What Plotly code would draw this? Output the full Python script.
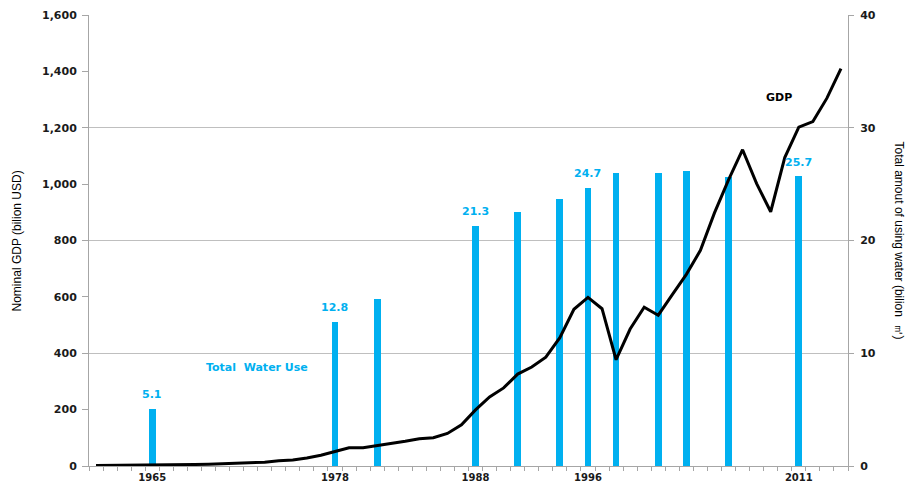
import plotly.graph_objects as go

# Year categories on the x axis
years = list(range(1961, 2015))

# Nominal GDP, billion USD
gdp = [2.1, 2.3, 2.7, 2.9, 3.0, 3.7, 4.3, 5.2, 6.6, 8.1,
       9.4, 10.7, 13.4, 18.8, 21.4, 28.7, 37.9, 51.7, 65.0, 65.0,
       72.4, 78.4, 87.7, 96.6, 100.3, 115.5, 146.0, 199.0, 245.0, 277.0,
       326.0, 351.0, 386.0, 455.0, 556.0, 598.0, 558.0, 377.0, 486.0, 563.0,
       535.0, 608.0, 680.0, 765.0, 898.0, 1015.0, 1122.0, 1002.0, 902.0, 1094.0,
       1202.0, 1222.0, 1305.0, 1410.0]

# Total water use, billion m3
water_years = [1965, 1978, 1981, 1988, 1991, 1994, 1996, 1998, 2001, 2003, 2006, 2011]
water = [5.1, 12.8, 14.8, 21.3, 22.5, 23.7, 24.7, 26.0, 26.0, 26.2, 25.6, 25.7]

# Years whose water value is printed above the bar
labeled_years = [1965, 1978, 1988, 1996, 2011]

# X tick labels
tick_years = [1965, 1978, 1988, 1996, 2011]

BLUE = "#00B0F0"
AXIS = "#A6A6A6"
GRID = "#BFBFBF"
TICK_FONT = dict(family="DejaVu Sans", size=11, color="#1A1A1A", weight="bold")
TITLE_FONT = dict(family="Liberation Sans Narrow, Liberation Sans, Arial", size=12, color="#000000")

fig = go.Figure()

fig.add_trace(go.Bar(
    x=water_years, y=water, width=0.48,
    marker=dict(color=BLUE, line=dict(width=0)),
    yaxis="y", name="Total Water Use", showlegend=False,
))

fig.add_trace(go.Scatter(
    x=years, y=gdp, mode="lines",
    line=dict(color="#000000", width=3),
    yaxis="y2", name="GDP", showlegend=False,
))

annotations = []
for yr, val in zip(water_years, water):
    if yr in labeled_years:
        annotations.append(dict(
            x=yr, y=val, xref="x", yref="y", text=f"{val:.1f}",
            showarrow=False, yanchor="middle", yshift=14,
            font=dict(family="DejaVu Sans", size=11, color=BLUE, weight="bold"),
        ))

annotations += [
    dict(x=0.2213, y=0.2195, xref="paper", yref="paper", text="Total  Water Use",
         showarrow=False, xanchor="center", yanchor="middle",
         font=dict(family="DejaVu Sans", size=11, color=BLUE, weight="bold")),
    dict(x=0.909, y=0.818, xref="paper", yref="paper", text="GDP",
         showarrow=False, xanchor="center", yanchor="middle",
         font=dict(family="DejaVu Sans", size=11, color="#000000", weight="bold")),
    dict(x=-0.0949, y=0.5, xref="paper", yref="paper", text="Nominal GDP (bilion USD)",
         showarrow=False, textangle=-90, xanchor="center", yanchor="middle",
         font=TITLE_FONT),
    dict(x=1.0685, y=0.5, xref="paper", yref="paper",
         text="Total amout of using water (bilion  ㎥)",
         showarrow=False, textangle=90, xanchor="center", yanchor="middle",
         font=TITLE_FONT),
]

fig.update_layout(
    width=909, height=488,
    margin=dict(l=89, r=61, t=15, b=22, autoexpand=False),
    paper_bgcolor="white", plot_bgcolor="white",
    bargap=0,
    xaxis=dict(
        automargin=False,
        range=[1960.5, 2014.5],
        tickvals=tick_years, ticktext=[str(t) for t in tick_years],
        ticks="", showgrid=False, zeroline=False,
        showline=True, linecolor=AXIS, linewidth=1,
        ticklabelstandoff=2,
        tickfont=dict(family="DejaVu Sans", size=10, color="#1A1A1A", weight="bold"),
        minor=dict(tick0=0.5, dtick=1, ticks="outside", ticklen=4,
                   tickcolor=AXIS, showgrid=False),
    ),
    yaxis=dict(
        automargin=False,
        side="right", range=[0, 40], dtick=10,
        showgrid=True, gridcolor=GRID, gridwidth=1,
        zeroline=False, showline=True, linecolor=AXIS, linewidth=1,
        ticks="outside", ticklen=5, tickcolor=AXIS,
        ticklabelstandoff=4,
        tickfont=TICK_FONT,
    ),
    yaxis2=dict(
        automargin=False,
        side="left", overlaying="y", range=[0, 1600], dtick=200,
        tickformat=",d", showgrid=False, zeroline=False,
        showline=True, linecolor=AXIS, linewidth=1,
        ticks="outside", ticklen=6, tickcolor=AXIS,
        ticklabelstandoff=3,
        tickfont=TICK_FONT,
    ),
    annotations=annotations,
)

fig.write_html("out.html")
